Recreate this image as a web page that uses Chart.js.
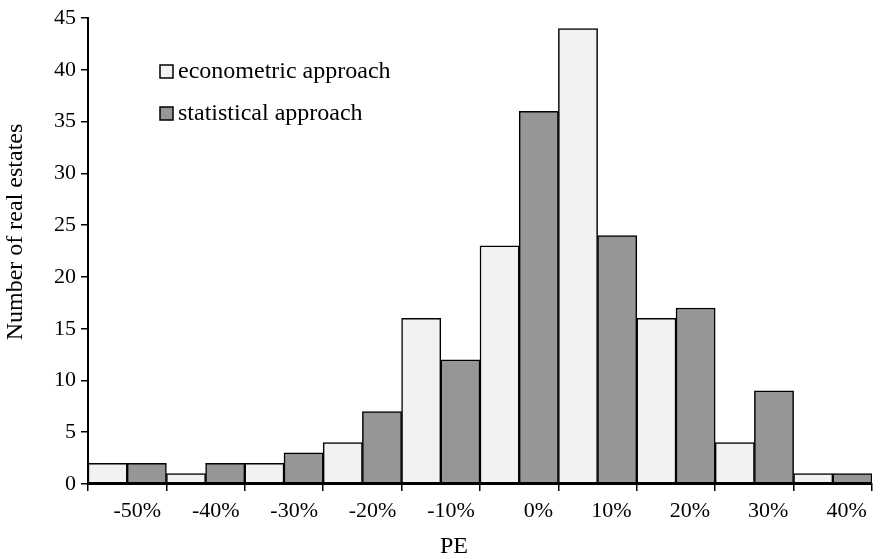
<!DOCTYPE html>
<html>
<head>
<meta charset="utf-8">
<script src="https://cdn.jsdelivr.net/npm/chart.js@4/dist/chart.umd.min.js"></script>
<style>
  html, body { margin: 0; padding: 0; background: #fff; }
  #wrap { width: 880px; height: 559px; position: relative; }
</style>
</head>
<body>
<div id="wrap"><canvas id="c" width="880" height="559"></canvas></div>
<script>
const categories = ['-50%', '-40%', '-30%', '-20%', '-10%', '0%', '10%', '20%', '30%', '40%'];
const econometric = [2, 1, 2, 4, 16, 23, 44, 16, 4, 1];
const statistical = [2, 2, 3, 7, 12, 36, 24, 17, 9, 1];
const seriesNames = ['econometric approach', 'statistical approach'];
const seriesColors = ['#f2f2f2', '#969696'];
const yMin = 0, yMax = 45, yStep = 5;
const xTitle = 'PE';
const yTitle = 'Number of real estates';

const FONT = "'Liberation Serif', 'Times New Roman', serif";

const overlay = {
  id: 'overlay',
  afterDraw(chart) {
    const ctx = chart.ctx;
    ctx.save();
    // legend
    ctx.font = '24px ' + FONT;
    ctx.textBaseline = 'middle';
    ctx.textAlign = 'left';
    chart.data.datasets.forEach((ds, i) => {
      const bx = 160, by = 65 + i * 42;
      ctx.fillStyle = ds.backgroundColor;
      ctx.fillRect(bx, by, 13, 13);
      ctx.strokeStyle = '#000';
      ctx.lineWidth = 1.5;
      ctx.strokeRect(bx, by, 13, 13);
      ctx.fillStyle = '#000';
      ctx.fillText(ds.label, 178, by + 7);
    });
    // x title
    ctx.textAlign = 'center';
    ctx.fillText(xTitle, 454, 547);
    // y title
    ctx.translate(16, 232);
    ctx.rotate(-Math.PI / 2);
    ctx.fillText(yTitle, 0, 0);
    ctx.restore();
  }
};

new Chart(document.getElementById('c'), {
  type: 'bar',
  data: {
    labels: categories,
    datasets: [
      { label: seriesNames[0], data: econometric, backgroundColor: seriesColors[0], borderColor: '#000', borderWidth: 1.5, borderSkipped: false, categoryPercentage: 1, barPercentage: 1 },
      { label: seriesNames[1], data: statistical, backgroundColor: seriesColors[1], borderColor: '#000', borderWidth: 1.5, borderSkipped: false, categoryPercentage: 1, barPercentage: 1 }
    ]
  },
  options: {
    responsive: false,
    animation: false,
    devicePixelRatio: 1,
    layout: { padding: { top: 18, right: 8, left: 0, bottom: 0 } },
    plugins: { legend: { display: false }, tooltip: { enabled: false } },
    scales: {
      x: {
        afterFit: s => { s.height = 75; },
        grid: { offset: true, drawOnChartArea: false, drawTicks: true, tickLength: 7, color: '#000', lineWidth: 1.5 },
        border: { display: true, color: '#000', width: 2 },
        ticks: { color: '#000', font: { family: FONT, size: 22 }, align: 'end', labelOffset: 34, padding: 7, maxRotation: 0, autoSkip: false }
      },
      y: {
        min: yMin, max: yMax,
        afterFit: s => { s.width = 88; },
        grid: { drawOnChartArea: false, drawTicks: true, tickLength: 7, color: '#000', lineWidth: 1.5 },
        border: { display: true, color: '#000', width: 2 },
        ticks: { stepSize: yStep, color: '#000', font: { family: FONT, size: 22 }, padding: 5 }
      }
    }
  },
  plugins: [overlay]
});
</script>
</body>
</html>
